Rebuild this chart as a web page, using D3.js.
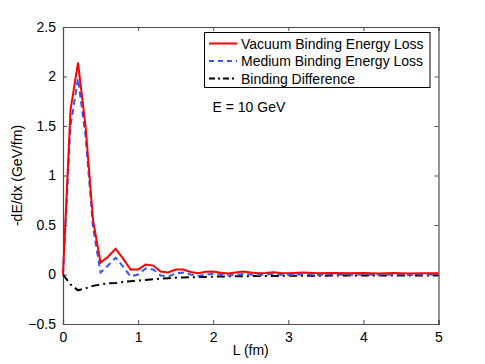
<!DOCTYPE html>
<html><head><meta charset="utf-8">
<script src="https://cdn.jsdelivr.net/npm/d3@7"></script>
<style>body{margin:0;background:#fff}svg{display:block;font-family:"Liberation Sans",Arial,sans-serif}</style>
</head><body><svg id="c" width="485" height="364"></svg>
<script>
const L = [0,0.1,0.2,0.3,0.4,0.5,0.6,0.7,0.8,0.9,1.0,1.1,1.2,1.3,1.4,1.5,1.6,1.7,1.8,1.9,2.0,2.1,2.2,2.3,2.4,2.5,2.6,2.7,2.8,2.9,3.0,3.2,3.4,3.6,3.8,4.0,4.2,4.4,4.6,4.8,5.0];
const vacuum = [0,1.66,2.14,1.5,0.55,0.12,0.18,0.26,0.16,0.05,0.05,0.10,0.09,0.03,0.02,0.05,0.05,0.025,0.012,0.028,0.03,0.018,0.01,0.02,0.03,0.02,0.012,0.016,0.022,0.016,0.012,0.02,0.012,0.016,0.012,0.014,0.011,0.014,0.011,0.013,0.012];
const medium = [0,1.5,1.98,1.4,0.48,0.02,0.09,0.17,0.08,-0.02,0.0,0.06,0.05,-0.01,-0.02,0.01,0.02,0.0,-0.015,-0.002,0.008,0.0,-0.008,-0.004,0.006,0.0,-0.006,-0.002,0.004,-0.002,-0.004,0.002,-0.004,0.0,-0.003,0.0,-0.002,0.001,-0.002,0.0,0.0];
const diff = [0,-0.1,-0.16,-0.14,-0.115,-0.1,-0.09,-0.085,-0.075,-0.068,-0.06,-0.055,-0.048,-0.042,-0.038,-0.034,-0.03,-0.028,-0.026,-0.024,-0.022,-0.02,-0.019,-0.018,-0.017,-0.016,-0.015,-0.015,-0.014,-0.014,-0.013,-0.012,-0.012,-0.011,-0.011,-0.01,-0.01,-0.01,-0.009,-0.009,-0.009];
const xTicks = [0,1,2,3,4,5];
const yTicks = [-0.5,0,0.5,1,1.5,2,2.5];
const seriesNames = ["Vacuum Binding Energy Loss","Medium Binding Energy Loss","Binding Difference"];
const annotation = "E = 10 GeV";

const svg = d3.select("#c");
const m = {l:63, r:438.5, t:27, b:324};
const x = d3.scaleLinear().domain([0,5]).range([m.l,m.r]);
const y = d3.scaleLinear().domain([-0.5,2.5]).range([m.b,m.t]);
const axisCol = "#4d4d4d";

const fmt = v => (v<0?"\u2212":"") + Math.abs(v);
const gx = svg.append("g").attr("transform",`translate(0,${m.b})`)
  .call(d3.axisBottom(x).tickValues(xTicks).tickSize(-4).tickPadding(8).tickFormat(fmt));
const gxt = svg.append("g").attr("transform",`translate(0,${m.t})`)
  .call(d3.axisTop(x).tickValues(xTicks).tickSize(-4).tickFormat(""));
const gy = svg.append("g").attr("transform",`translate(${m.l},0)`)
  .call(d3.axisLeft(y).tickValues(yTicks).tickSize(-4).tickPadding(7).tickFormat(fmt));
const gyr = svg.append("g").attr("transform",`translate(${m.r},0)`)
  .call(d3.axisRight(y).tickValues(yTicks).tickSize(-4).tickFormat(""));
[gx,gxt,gy,gyr].forEach(g=>{
  g.select(".domain").attr("stroke",axisCol).attr("stroke-width",1.2);
  g.selectAll(".tick line").attr("stroke",axisCol);
  g.selectAll("text").attr("fill","#000").style("font-size","14px").style("font-family","Liberation Sans, Arial, sans-serif");
});

const line = arr => d3.line().x((d,i)=>x(L[i])).y(d=>y(d))(arr);
const plot = svg.append("g");
plot.append("path").attr("d",line(diff)).attr("fill","none").attr("stroke","#000").attr("stroke-width",2).attr("stroke-dasharray","8,4,2,4");
plot.append("path").attr("d",line(medium)).attr("fill","none").attr("stroke","#3355ff").attr("stroke-width",2).attr("stroke-dasharray","6,4");
plot.append("path").attr("d",line(vacuum)).attr("fill","none").attr("stroke","#ff0000").attr("stroke-width",2);

// legend
const lg = svg.append("g");
lg.append("rect").attr("x",204.5).attr("y",32.5).attr("width",225.5).attr("height",55).attr("fill","#fff").attr("stroke","#000").attr("stroke-width",1);
const styles = [{c:"#ff0000",d:null},{c:"#3355ff",d:"5,4"},{c:"#000",d:"6,3,2,3"}];
const rowsY = [43.5,61,78.5];
seriesNames.forEach((n,i)=>{
  lg.append("line").attr("x1",209).attr("x2",237).attr("y1",rowsY[i]).attr("y2",rowsY[i])
    .attr("stroke",styles[i].c).attr("stroke-width",2).attr("stroke-dasharray",styles[i].d);
  lg.append("text").attr("x",241).attr("y",rowsY[i]+5).text(n).style("font-size","14px");
});
svg.append("text").attr("x",212.5).attr("y",112).text(annotation).style("font-size","14px");

svg.append("text").attr("x",(m.l+m.r)/2).attr("y",355).attr("text-anchor","middle").text("L (fm)").style("font-size","14px");
svg.append("text").attr("transform",`translate(22,${(m.t+m.b)/2}) rotate(-90)`).attr("text-anchor","middle").text("-dE/dx (GeV/fm)").style("font-size","14px");
</script></body></html>
